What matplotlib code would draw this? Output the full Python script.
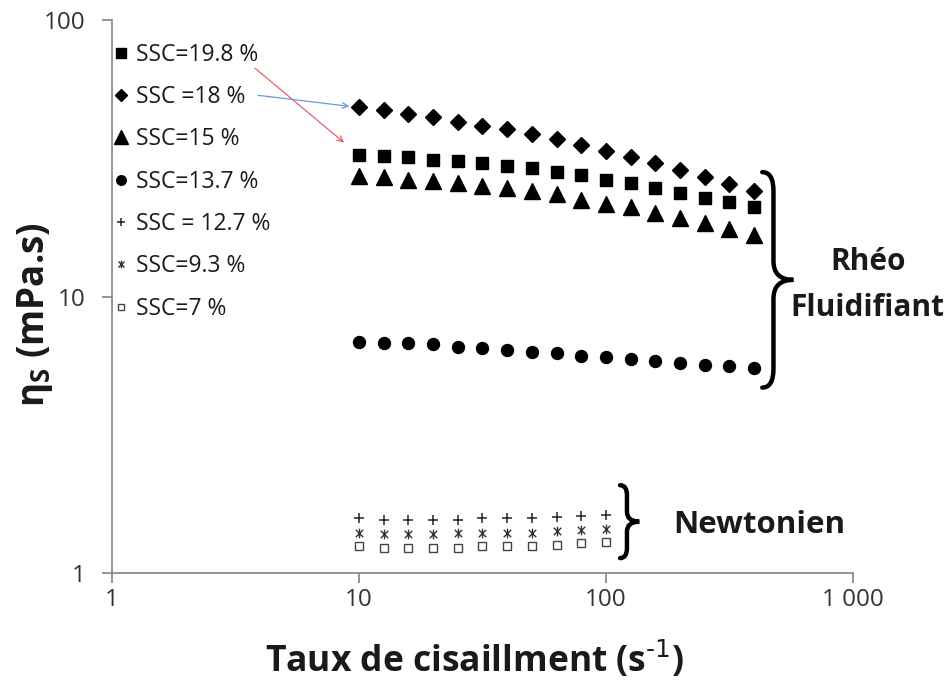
import matplotlib
matplotlib.use("Agg")
import matplotlib.pyplot as plt
import numpy as np
from matplotlib.path import Path
from matplotlib.patches import PathPatch
from matplotlib.ticker import NullLocator

plt.rcParams['font.family'] = ['Open Sans', 'DejaVu Sans']
plt.rcParams['mathtext.default'] = 'regular'

# --- Données ---
# taux de cisaillement (s-1)
shear_rheo = [10, 12.6, 15.8, 20, 25.1, 31.6, 39.8, 50.1, 63.1, 79.4,
              100, 126, 158, 200, 251, 316, 398]
shear_newt = [10, 12.6, 15.8, 20, 25.1, 31.6, 39.8, 50.1, 63.1, 79.4, 100]

# viscosité (mPa.s)
visc_198 = [32.5, 32.2, 31.9, 31.3, 30.9, 30.3, 29.6, 29.1, 28.3, 27.5,
            26.5, 25.7, 24.6, 23.6, 22.8, 21.9, 21.0]
visc_18 = [48.3, 47.3, 45.7, 44.5, 42.9, 41.5, 40.3, 38.8, 37.0, 35.3,
           33.7, 31.9, 30.3, 28.7, 27.0, 25.5, 24.1]
visc_15 = [27.3, 27.0, 26.5, 26.2, 25.7, 25.1, 24.6, 24.1, 23.5, 22.3,
           21.7, 21.0, 20.0, 19.3, 18.5, 17.6, 16.7]
visc_137 = [6.86, 6.81, 6.77, 6.72, 6.59, 6.50, 6.41, 6.28, 6.23, 6.11,
            6.03, 5.93, 5.85, 5.73, 5.65, 5.61, 5.53]
visc_127 = [1.58, 1.56, 1.55, 1.56, 1.56, 1.58, 1.58, 1.58, 1.60, 1.61, 1.62]
visc_93 = [1.40, 1.38, 1.38, 1.38, 1.39, 1.40, 1.40, 1.40, 1.42, 1.43, 1.44]
visc_7 = [1.25, 1.23, 1.23, 1.23, 1.23, 1.25, 1.25, 1.25, 1.26, 1.28, 1.30]

labels = ["SSC=19.8 %", "SSC =18 %", "SSC=15 %", "SSC=13.7 %",
          "SSC = 12.7 %", "SSC=9.3 %", "SSC=7 %"]

# marqueur "astérisque" façon Excel : X + trait vertical
asterisk = Path([(-1, -1), (1, 1), (-1, 1), (1, -1), (0, -1.3), (0, 1.3)],
                [Path.MOVETO, Path.LINETO, Path.MOVETO, Path.LINETO,
                 Path.MOVETO, Path.LINETO])

fig = plt.figure(figsize=(9.53, 6.86), dpi=100)
ax = fig.add_axes([0.1175, 0.1647, 0.7775, 0.806])

h1, = ax.plot(shear_rheo, visc_198, ls='none', marker='s', ms=8.6, color='black')
h2, = ax.plot(shear_rheo, visc_18, ls='none', marker='D', ms=8.0, color='black')
h3, = ax.plot(shear_rheo, visc_15, ls='none', marker='^', ms=12, color='black')
h4, = ax.plot(shear_rheo, visc_137, ls='none', marker='o', ms=8.6, color='black')
h5, = ax.plot(shear_newt, visc_127, ls='none', marker='+', ms=7.5, mew=1.1, color='#222222')
h6, = ax.plot(shear_newt, visc_93, ls='none', marker=asterisk, ms=7, mew=1.0, color='#333333')
h7, = ax.plot(shear_newt, visc_7, ls='none', marker='s', ms=6.2, mew=1.0,
              mfc='white', mec='#444444')

ax.set_xscale('log')
ax.set_yscale('log')
ax.set_xlim(1, 1000)
ax.set_ylim(1, 100)
ax.set_xticks([1, 10, 100, 1000])
ax.set_xticklabels(['1', '10', '100', '1 000'])
ax.set_yticks([1, 10, 100])
ax.set_yticklabels(['1', '10', '100'])
ax.xaxis.set_minor_locator(NullLocator())
ax.yaxis.set_minor_locator(NullLocator())

for side in ['top', 'right']:
    ax.spines[side].set_visible(False)
for side in ['left', 'bottom']:
    ax.spines[side].set_color('#8c8c8c')
    ax.spines[side].set_linewidth(1.3)
ax.tick_params(which='major', direction='out', length=7, width=1.3, color='#8c8c8c',
               labelsize=17.5, labelcolor='#333333')
ax.tick_params(axis='x', pad=4)
ax.tick_params(axis='y', pad=12)

fig.text(0.037, 0.541, r'η$_{\mathregular{S}}$ (mPa.s)', rotation=90, ha='center', va='center',
         fontsize=26.5, fontweight='bold', color='#1a1a1a')
fig.text(0.498, 0.038, r'Taux de cisaillment (s$^{\text{-1}}$)', ha='center', va='center',
         fontsize=25.5, fontweight='bold', color='#1a1a1a')

leg = ax.legend([h1, h2, h3, h4, h5, h6, h7], labels, loc='upper left',
                bbox_to_anchor=(0.0, 0.959), frameon=False, fontsize=16.5,
                markerscale=0.8, handlelength=0.75, handletextpad=0.3,
                labelspacing=0.80, borderpad=0, borderaxespad=0)
for t in leg.get_texts():
    t.set_color('#1a1a1a')

# flèches de la légende vers les séries
ax.annotate('', xy=(shear_rheo[0], visc_198[0]), xytext=(0.193, 0.913),
            textcoords='axes fraction',
            arrowprops=dict(arrowstyle='->', color='#e8606e', lw=0.9, shrinkA=0, shrinkB=14))
ax.annotate('', xy=(shear_rheo[0], visc_18[0]), xytext=(0.197, 0.864),
            textcoords='axes fraction',
            arrowprops=dict(arrowstyle='->', color='#6a9bd1', lw=0.9, shrinkA=0, shrinkB=7))


def brace(x0, y_bot, y_top, w, r, lw):
    # accolade "}" en coordonnées d'axes
    xm = x0 + 0.36 * w
    ym = (y_bot + y_top) / 2
    verts = [(x0, y_top), (xm, y_top), (xm, y_top - r),
             (xm, ym + r), (xm, ym), (x0 + w, ym),
             (xm, ym), (xm, ym - r),
             (xm, y_bot + r), (xm, y_bot), (x0, y_bot)]
    codes = [Path.MOVETO, Path.CURVE3, Path.CURVE3,
             Path.LINETO, Path.CURVE3, Path.CURVE3,
             Path.CURVE3, Path.CURVE3,
             Path.LINETO, Path.CURVE3, Path.CURVE3]
    ax.add_patch(PathPatch(Path(verts, codes), transform=ax.transAxes, fc='none',
                           ec='black', lw=lw, clip_on=False, capstyle='round'))


def ax_x(v):
    return np.log10(v) / 3


def ax_y(v):
    return np.log10(v) / 2


rheo_last = [visc_198[-1], visc_18[-1], visc_15[-1], visc_137[-1]]
brace(ax_x(shear_rheo[-1]) + 0.011, ax_y(min(rheo_last)) - 0.036,
      ax_y(max(rheo_last)) + 0.034, 0.042, 0.034, 3.2)
newt_last = [visc_127[-1], visc_93[-1], visc_7[-1]]
brace(ax_x(shear_newt[-1]) + 0.019, ax_y(min(newt_last)) - 0.03,
      ax_y(max(newt_last)) + 0.054, 0.026, 0.018, 3.2)

ax.text(1.020, 0.562, 'Rhéo', transform=ax.transAxes, ha='center', va='center',
        fontsize=21.5, fontweight='bold', color='#1a1a1a', clip_on=False)
ax.text(1.020, 0.479, 'Fluidifiant', transform=ax.transAxes, ha='center', va='center',
        fontsize=21.5, fontweight='bold', color='#1a1a1a', clip_on=False)
ax.text(0.873, 0.087, 'Newtonien', transform=ax.transAxes, ha='center', va='center',
        fontsize=22.5, fontweight='bold', color='#1a1a1a', clip_on=False)

fig.savefig('out.png', dpi=100)
